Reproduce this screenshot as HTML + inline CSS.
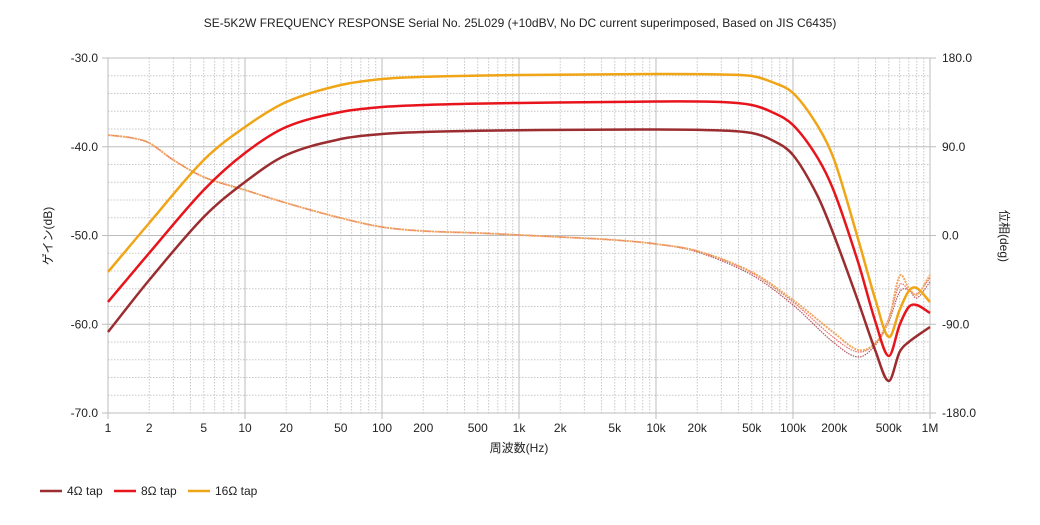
<!DOCTYPE html>
<html><head><meta charset="utf-8"><style>
body{margin:0;background:#fff;}
svg text{font-family:"Liberation Sans","Noto Sans CJK JP",sans-serif;font-size:12px;fill:#222;}
</style></head><body>
<svg id="s" width="1040" height="520" xmlns="http://www.w3.org/2000/svg">
<text x="520" y="27" text-anchor="middle">SE-5K2W FREQUENCY RESPONSE Serial No. 25L029 (+10dBV,  No DC current superimposed,  Based on JIS C6435)</text>
<g id="grid"></g>
<g id="curves"></g>
<text x="519" y="452" text-anchor="middle">周波数(Hz)</text>
<text transform="translate(52,236) rotate(-90)" text-anchor="middle">ゲイン(dB)</text>
<text transform="translate(1000,236) rotate(90)" text-anchor="middle">位相(deg)</text>
<line x1="40" y1="491" x2="62" y2="491" stroke="#9b2d30" stroke-width="2.5"/><text x="67" y="495">4Ω tap</text>
<line x1="114" y1="491" x2="136" y2="491" stroke="#e8141c" stroke-width="2.5"/><text x="141" y="495">8Ω tap</text>
<line x1="188" y1="491" x2="210" y2="491" stroke="#f0a516" stroke-width="2.5"/><text x="215" y="495">16Ω tap</text>
</svg>
<script>
const NS="http://www.w3.org/2000/svg";
const X=f=>108+137*Math.log10(f);
const Yd=d=>58+(-30-d)*8.875;
const g=document.getElementById('grid'),c=document.getElementById('curves');
function el(p,t,a,txt){const e=document.createElementNS(NS,t);for(const k in a)e.setAttribute(k,a[k]);if(txt!==undefined)e.textContent=txt;p.appendChild(e);return e;}
for(let d=-30;d>=-70;d-=2){const y=Yd(d);if(d%10==0)continue;el(g,'line',{x1:108,x2:930,y1:y,y2:y,stroke:'#c8c8c8','stroke-dasharray':'1.5,1.5'});}
for(let dec=0;dec<6;dec++)for(let m=2;m<=9;m++){const x=X(m*Math.pow(10,dec));el(g,'line',{x1:x,x2:x,y1:58,y2:413,stroke:'#c8c8c8','stroke-dasharray':'1.5,1.5'});}
for(let d=-30;d>=-70;d-=10){const y=Yd(d);el(g,'line',{x1:102,x2:936,y1:y,y2:y,stroke:'#bdbdbd'});
 el(g,'text',{x:98,y:y+4,'text-anchor':'end'},d.toFixed(1));
 const ph=180+(d+30)*9;el(g,'text',{x:942,y:y+4},ph.toFixed(1));}
for(let dec=0;dec<=6;dec++){const x=X(Math.pow(10,dec));el(g,'line',{x1:x,x2:x,y1:58,y2:419,stroke:'#bdbdbd'});}
const labs=[[1,'1'],[2,'2'],[5,'5'],[10,'10'],[20,'20'],[50,'50'],[100,'100'],[200,'200'],[500,'500'],[1e3,'1k'],[2e3,'2k'],[5e3,'5k'],[1e4,'10k'],[2e4,'20k'],[5e4,'50k'],[1e5,'100k'],[2e5,'200k'],[5e5,'500k'],[1e6,'1M']];
labs.forEach(([f,t])=>el(g,'text',{x:X(f),y:432,'text-anchor':'middle'},t));
function path(pts){const P=pts.map(([f,y])=>[X(f),y]);let d='M'+P[0][0]+','+P[0][1];
 for(let i=0;i<P.length-1;i++){const p0=P[i-1]||P[i],p1=P[i],p2=P[i+1],p3=P[i+2]||p2;
 const l=p2[0]-p1[0];
 const s1=(p2[1]-p0[1])/((p2[0]-p0[0])||1), s2=(p3[1]-p1[1])/((p3[0]-p1[0])||1);
 d+=` C${p1[0]+l/3},${p1[1]+s1*l/3} ${p2[0]-l/3},${p2[1]-s2*l/3} ${p2[0]},${p2[1]}`;}return d;}
const phBase=[[1,135],[1.5,138],[2,143],[3,160],[5,177],[10,190],[20,203],[50,218],[100,227],[200,231],[500,233],[1e3,235],[2e3,237],[5e3,240],[1e4,244]];
const ph4=phBase.concat([[2e4,252],[5e4,275],[1e5,305],[2e5,343],[3e5,357],[4e5,345],[5e5,322],[6e5,292],[7e5,290],[8e5,298],[1e6,282]]);
const ph8=phBase.concat([[2e4,251],[5e4,273],[1e5,302],[2e5,338],[3e5,352],[4e5,343],[5e5,318],[6e5,285],[7e5,290],[8e5,294],[1e6,278]]);
const ph16=phBase.concat([[2e4,251],[5e4,272],[1e5,300],[2e5,333],[3e5,350],[4e5,343],[5e5,320],[6e5,276],[7e5,288],[8e5,295],[1e6,275]]);
el(c,'path',{d:path(ph4),fill:'none',stroke:'#b05a5e','stroke-width':1.2,'stroke-dasharray':'1.5,1'});
el(c,'path',{d:path(ph8),fill:'none',stroke:'#ee6a6e','stroke-width':1.2,'stroke-dasharray':'1.5,1'});
el(c,'path',{d:path(ph16),fill:'none',stroke:'#f0a860','stroke-width':2,'stroke-dasharray':'2,1'});
const g4=[[1,332],[2,280],[5,217],[10,182],[20,155],[50,139],[100,134],[200,132],[500,130.8],[1e3,130.2],[1e4,129.5],[3e4,130.5],[5e4,133],[7e4,140],[1e5,155],[1.5e5,195],[2e5,236],[3e5,302],[4e5,351],[5e5,381],[6e5,352],[7e5,342],[1e6,327]];
const g8=[[1,302],[2,253],[5,190],[10,153],[20,127],[50,112],[100,107],[200,105],[500,103.6],[1e3,103],[1e4,101.5],[3e4,102],[5e4,105],[7e4,112],[1e5,125],[1.5e5,157],[2e5,192],[3e5,263],[4e5,322],[5e5,356],[6e5,325],[7e5,307],[8e5,305],[1e6,313]];
const g16=[[1,272],[2,223],[5,160],[10,127],[20,102],[50,85],[100,79],[200,76.8],[500,75.6],[1e3,75],[1e4,74],[3e4,74.5],[5e4,76],[7e4,82],[1e5,93],[1.5e5,125],[2e5,160],[3e5,240],[4e5,300],[5e5,337],[6e5,310],[7e5,291],[8e5,288],[1e6,302]];
el(c,'path',{d:path(g4),fill:'none',stroke:'#9b2d30','stroke-width':2.5});
el(c,'path',{d:path(g8),fill:'none',stroke:'#e8141c','stroke-width':2.5});
el(c,'path',{d:path(g16),fill:'none',stroke:'#f0a516','stroke-width':2.5});
</script>
</body></html>
